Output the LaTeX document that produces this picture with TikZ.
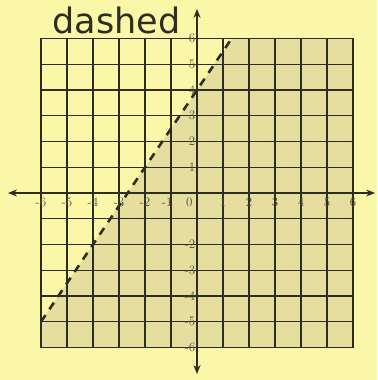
\documentclass[tikz,border=0pt]{standalone}
\usepackage{fontspec}
\usepackage{xcolor}
\usepackage{tikz}
\usetikzlibrary{arrows.meta}
\newfontfamily\handfont{DejaVu Sans}
\definecolor{paper}{RGB}{251,247,168}
\definecolor{halfplane}{RGB}{229,222,158}
\definecolor{ink}{RGB}{45,45,35}
\definecolor{numink}{RGB}{80,80,65}

\begin{document}
\begin{tikzpicture}[x=26pt, y=25.75pt,
      gridline/.style={draw=ink, line width=1.1pt},
      axisline/.style={draw=ink, line width=1.4pt, {Stealth[length=9pt,width=7pt]}-{Stealth[length=9pt,width=7pt]}},
      boundary/.style={draw=ink, line width=2.6pt, dash pattern=on 8pt off 7pt},
      num/.style={font=\fontsize{13}{13}\selectfont, text=numink, inner sep=1pt}]
    \useasboundingbox[fill=paper] (-7.577,-7.262) rectangle (6.923,7.495);
    % shaded half-plane y < 1.5x + 4
    \fill[halfplane] (-6,-5) -- (4/3,6) -- (6,6) -- (6,-6) -- (-6,-6) -- cycle;
    \foreach \k in {-6,...,6} {
      \draw[gridline] (\k,-6) -- (\k,6);
      \draw[gridline] (-6,\k) -- (6,\k);
    }
    \draw[axisline] (-7.27,0) -- (6.85,0);
    \draw[axisline] (0,-7.03) -- (0,7.15);
    \draw[boundary] (-6,-5) -- (4/3,6);
    % axis numbers
    \foreach \k in {-6,-5,-4,-3,-2,1,2,3,4,5,6}
      \node[num, anchor=north] (xl\k) at (\k,-0.15) {\k};
    \node[num, anchor=north] (xlm1) at (-1.15,-0.15) {-1};
    \node[num, anchor=north] (xl0) at (-0.3,-0.15) {0};
    \foreach \k in {1,...,6}
      \node[num, anchor=east] (yl\k) at (-0.02,\k) {\k};
    \foreach \k in {-2,...,-6}
      \node[num, anchor=east] (yl\k) at (-0.02,\k) {\k};
    \node[font=\handfont\fontsize{35}{35}\selectfont, text=ink] (tag) at (-3.1,6.7) {dashed};
  \end{tikzpicture}
\end{document}
